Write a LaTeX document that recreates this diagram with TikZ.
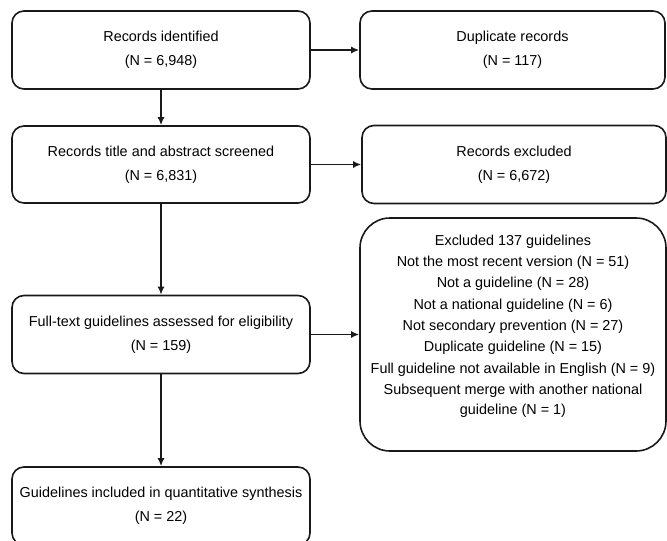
\documentclass[tikz,border=0pt]{standalone}
\usepackage{fontspec}
\setmainfont{Liberation Sans}
\usetikzlibrary{arrows.meta}
\begin{document}
\begin{tikzpicture}[x=1pt,y=-1pt,
  box/.style={draw=black!90, line width=1.6pt, rounded corners=12pt, align=center,
    inner sep=0pt, font=\fontsize{14.4}{24}\selectfont},
  bigbox/.style={draw=black!90, line width=1.6pt, rounded corners=30pt, inner sep=0pt},
  bigtext/.style={align=center, inner sep=0pt, font=\fontsize{14.4}{21.3}\selectfont},
  arr/.style={line width=1.6pt, draw=black!90, -{Latex[length=8pt,width=7pt]}}]
\useasboundingbox (0,0) rectangle (667,541);
\clip (0,0) rectangle (667,541);
\node[box, minimum width=298pt, minimum height=78pt] (A) at (161,50) {Records identified\\(N = 6,948)};
\node[box, minimum width=305pt, minimum height=78pt] (B) at (512.5,50) {Duplicate records\\(N = 117)};
\node[box, minimum width=298pt, minimum height=77pt] (C) at (161,164.5) {Records title and abstract screened\\(N = 6,831)};
\node[box, minimum width=304pt, minimum height=78pt] (D) at (514,164.5) {Records excluded\\(N = 6,672)};
\node[box, minimum width=298pt, minimum height=78pt] (E) at (161,334.5) {Full-text guidelines assessed for eligibility\\(N = 159)};
\node[bigbox, minimum width=306pt, minimum height=233pt] (F) at (513,334.5) {};
\node[bigtext] (Ft) at (513,326) {Excluded 137 guidelines\\Not the most recent version (N = 51)\\Not a guideline (N = 28)\\Not a national guideline (N = 6)\\Not secondary prevention (N = 27)\\Duplicate guideline (N = 15)\\Full guideline not available in English (N = 9)\\Subsequent merge with another national\\[-1.5pt]guideline (N = 1)};
\node[box, minimum width=298pt, minimum height=78pt] (G) at (161,506) {Guidelines included in quantitative synthesis\\(N = 22)};
\draw[arr] (A.east) -- (B.west);
\draw[arr] (C.east) -- (D.west);
\draw[arr] (E.east) -- (F.west);
\draw[arr] (A.south) -- (C.north);
\draw[arr] (C.south) -- (E.north);
\draw[arr] (E.south) -- (G.north);
\end{tikzpicture}
\end{document}
